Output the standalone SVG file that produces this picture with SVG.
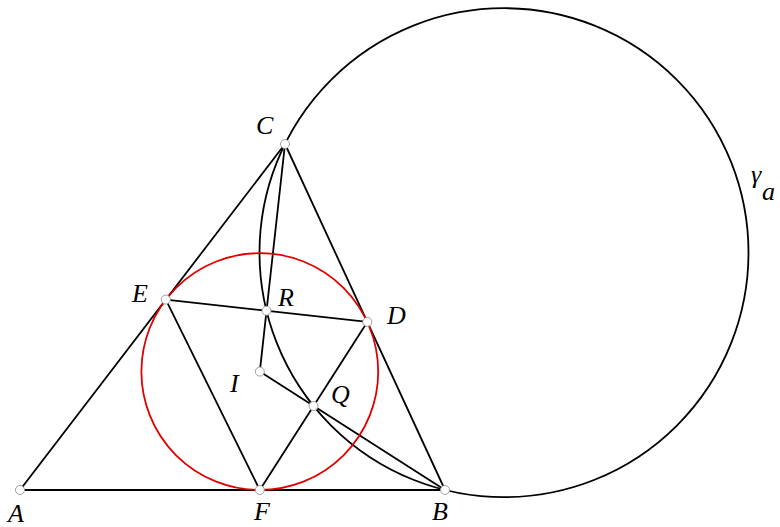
<svg xmlns="http://www.w3.org/2000/svg" width="780" height="527" viewBox="0 0 780 527">
<style>
.ln{stroke:#000;stroke-width:1.8;fill:none;stroke-linecap:round}
.inc{stroke:#e00000;stroke-width:1.8;fill:none}
.pt{fill:#fff;stroke:#a0a0a0;stroke-width:1}
.lb{font-style:italic;font-size:26px;fill:#000}
</style>
<rect width="780" height="527" fill="#fff"/>
<g id="connectors">
<line class="ln" x1="20" y1="490" x2="445" y2="490"/>
<line class="ln" x1="445" y1="490" x2="285" y2="144"/>
<line class="ln" x1="285" y1="144" x2="20" y2="490"/>
<line class="ln" x1="165.8" y1="299.6" x2="367.3" y2="321.9"/>
<line class="ln" x1="165.8" y1="299.6" x2="259.8" y2="490"/>
<line class="ln" x1="259.8" y1="490" x2="367.3" y2="321.9"/>
<line class="ln" x1="285" y1="144" x2="259.8" y2="371.6"/>
<line class="ln" x1="259.8" y1="371.6" x2="445" y2="490"/>
<circle id="gamma_a" class="ln" cx="504" cy="252.7" r="244.5"/>
<circle id="incircle" class="inc" cx="259.8" cy="371.6" r="118.4"/>
</g>
<g font-family="Liberation Serif, Times New Roman, serif">
<g id="A"><circle class="pt" cx="20" cy="490" r="4.5"/><text class="lb" x="8" y="522">A</text></g>
<g id="B"><circle class="pt" cx="445" cy="490" r="4.5"/><text class="lb" x="432" y="520">B</text></g>
<g id="C"><circle class="pt" cx="285" cy="144" r="4.5"/><text class="lb" x="256" y="134">C</text></g>
<g id="D"><circle class="pt" cx="367.3" cy="321.9" r="4.5"/><text class="lb" x="387" y="324">D</text></g>
<g id="E"><circle class="pt" cx="165.8" cy="299.6" r="4.5"/><text class="lb" x="132" y="302">E</text></g>
<g id="F"><circle class="pt" cx="259.8" cy="490" r="4.5"/><text class="lb" x="254" y="520">F</text></g>
<g id="I"><circle class="pt" cx="259.8" cy="371.6" r="4.5"/><text class="lb" x="230" y="392">I</text></g>
<g id="R"><circle class="pt" cx="266.5" cy="310.7" r="4.5"/><text class="lb" x="278" y="306">R</text></g>
<g id="Q"><circle class="pt" cx="313.5" cy="406" r="4.5"/><text class="lb" x="331" y="403">Q</text></g>
<g id="gamma_label"><text class="lb" x="751" y="183">γ</text><text class="lb" x="762" y="200">a</text></g>
</g>
</svg>
